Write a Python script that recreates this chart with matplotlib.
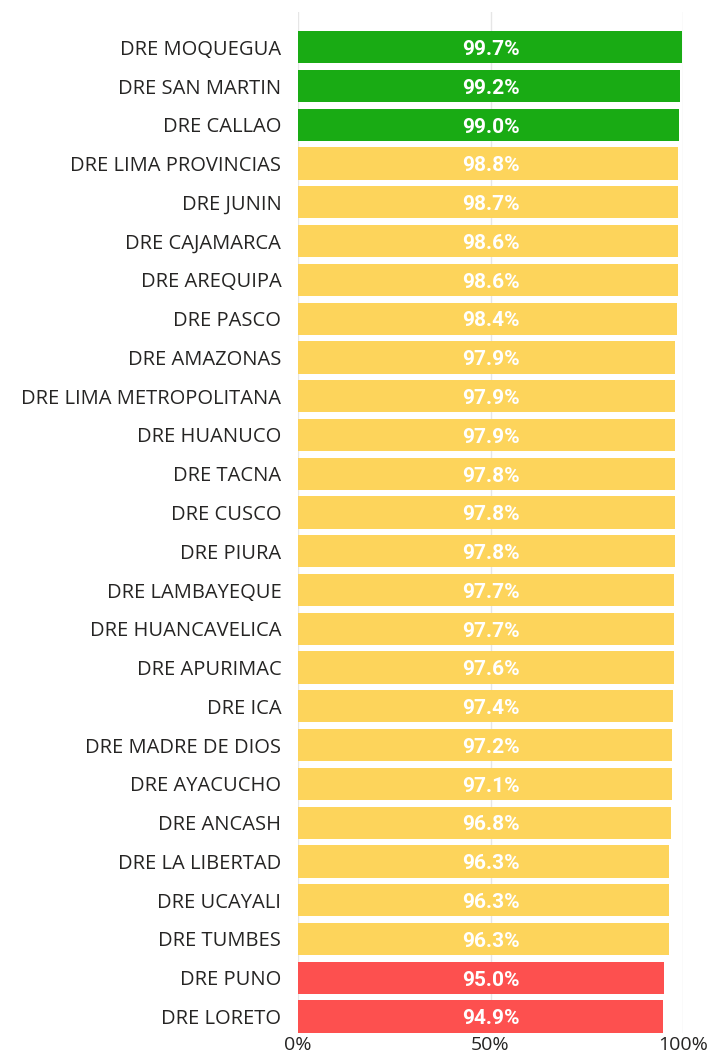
import matplotlib.pyplot as plt

regiones = ['DRE MOQUEGUA', 'DRE SAN MARTIN', 'DRE CALLAO', 'DRE LIMA PROVINCIAS', 'DRE JUNIN',
            'DRE CAJAMARCA', 'DRE AREQUIPA', 'DRE PASCO', 'DRE AMAZONAS', 'DRE LIMA METROPOLITANA',
            'DRE HUANUCO', 'DRE TACNA', 'DRE CUSCO', 'DRE PIURA', 'DRE LAMBAYEQUE',
            'DRE HUANCAVELICA', 'DRE APURIMAC', 'DRE ICA', 'DRE MADRE DE DIOS', 'DRE AYACUCHO',
            'DRE ANCASH', 'DRE LA LIBERTAD', 'DRE UCAYALI', 'DRE TUMBES', 'DRE PUNO', 'DRE LORETO']
valores = [99.7, 99.2, 99.0, 98.8, 98.7, 98.6, 98.6, 98.4, 97.9, 97.9,
           97.9, 97.8, 97.8, 97.8, 97.7, 97.7, 97.6, 97.4, 97.2, 97.1,
           96.8, 96.3, 96.3, 96.3, 95.0, 94.9]
ticks = [0, 50, 100]
tick_labels = ['0%', '50%', '100%']


def color_de(v):
    # verde >= 99, rojo < 96, amarillo el resto
    if v >= 99.0:
        return '#19AB14'
    if v < 96.0:
        return '#FD504F'
    return '#FDD45B'


fig = plt.figure(figsize=(7.15, 10.62), dpi=100)
ax = fig.add_axes([0.4168, 0.0275, 0.5385, 0.9612])

y = list(range(len(regiones)))
colores = [color_de(v) for v in valores]
ax.barh(y, valores, height=0.83, color=colores, zorder=2)

for yi, v in zip(y, valores):
    ax.text(50, yi + 0.06, f'{v:.1f}%', ha='center', va='center', color='white',
            fontsize=15, fontweight='bold', family='Roboto', zorder=3)

ax.set_xlim(0, 100)
ax.set_ylim(25.42, -0.91)
ax.set_yticks(y)
ax.set_yticklabels(regiones, fontsize=14.5, family='Open Sans', color='#252423')
ax.set_xticks(ticks)
ax.set_xticklabels(tick_labels, fontsize=14, family='Open Sans', color='#252423')
ax.tick_params(axis='both', length=0)
ax.tick_params(axis='y', pad=12)
ax.tick_params(axis='x', pad=2)
for s in ax.spines.values():
    s.set_visible(False)
ax.grid(axis='x', color='#E6E6E6', linewidth=1.0, zorder=0)
ax.set_axisbelow(True)

plt.savefig('out.png', dpi=100)
